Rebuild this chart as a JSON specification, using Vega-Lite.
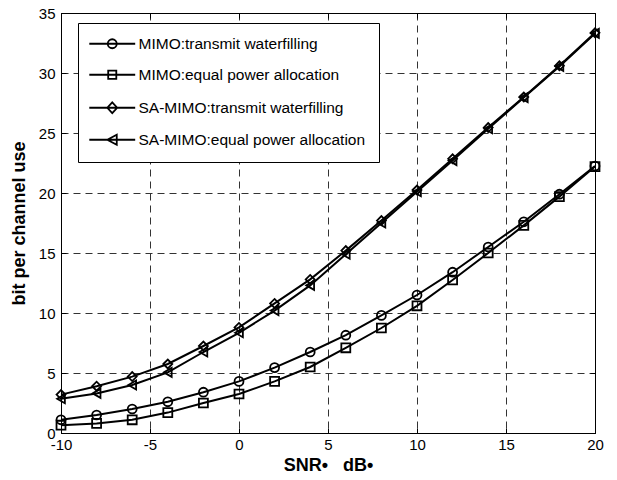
{
  "$schema": "https://vega.github.io/schema/vega-lite/v6.json",
  "width": 534,
  "height": 420,
  "autosize": {"type": "none"},
  "padding": {"left": 61, "top": 13, "right": 22, "bottom": 47},
  "background": "white",
  "config": {
    "font": "Liberation Sans",
    "view": {"stroke": "black", "strokeWidth": 1},
    "axis": {
      "domainColor": "black",
      "domainWidth": 1,
      "tickColor": "black",
      "tickSize": -5,
      "tickWidth": 1,
      "labelFont": "Liberation Sans",
      "labelFontSize": 15,
      "labelColor": "black",
      "labelFlush": false,
      "labelOverlap": false,
      "labelExpr": "'' + datum.value",
      "titleFont": "Liberation Sans",
      "titleFontSize": 18,
      "titleFontWeight": "bold",
      "titleColor": "black",
      "gridColor": "#333333",
      "gridDash": [7, 5],
      "gridWidth": 1,
      "gridOpacity": 1
    }
  },
  "data": {
    "values": [
      {"snr": -10, "bits": 1.1, "series": "MIMO:transmit waterfilling"},
      {"snr": -8, "bits": 1.5, "series": "MIMO:transmit waterfilling"},
      {"snr": -6, "bits": 2.0, "series": "MIMO:transmit waterfilling"},
      {"snr": -4, "bits": 2.6, "series": "MIMO:transmit waterfilling"},
      {"snr": -2, "bits": 3.4, "series": "MIMO:transmit waterfilling"},
      {"snr": 0, "bits": 4.3, "series": "MIMO:transmit waterfilling"},
      {"snr": 2, "bits": 5.45, "series": "MIMO:transmit waterfilling"},
      {"snr": 4, "bits": 6.75, "series": "MIMO:transmit waterfilling"},
      {"snr": 6, "bits": 8.15, "series": "MIMO:transmit waterfilling"},
      {"snr": 8, "bits": 9.8, "series": "MIMO:transmit waterfilling"},
      {"snr": 10, "bits": 11.5, "series": "MIMO:transmit waterfilling"},
      {"snr": 12, "bits": 13.4, "series": "MIMO:transmit waterfilling"},
      {"snr": 14, "bits": 15.5, "series": "MIMO:transmit waterfilling"},
      {"snr": 16, "bits": 17.6, "series": "MIMO:transmit waterfilling"},
      {"snr": 18, "bits": 19.9, "series": "MIMO:transmit waterfilling"},
      {"snr": 20, "bits": 22.25, "series": "MIMO:transmit waterfilling"},
      {"snr": -10, "bits": 0.65, "series": "MIMO:equal power allocation"},
      {"snr": -8, "bits": 0.8, "series": "MIMO:equal power allocation"},
      {"snr": -6, "bits": 1.1, "series": "MIMO:equal power allocation"},
      {"snr": -4, "bits": 1.7, "series": "MIMO:equal power allocation"},
      {"snr": -2, "bits": 2.5, "series": "MIMO:equal power allocation"},
      {"snr": 0, "bits": 3.25, "series": "MIMO:equal power allocation"},
      {"snr": 2, "bits": 4.3, "series": "MIMO:equal power allocation"},
      {"snr": 4, "bits": 5.5, "series": "MIMO:equal power allocation"},
      {"snr": 6, "bits": 7.1, "series": "MIMO:equal power allocation"},
      {"snr": 8, "bits": 8.75, "series": "MIMO:equal power allocation"},
      {"snr": 10, "bits": 10.6, "series": "MIMO:equal power allocation"},
      {"snr": 12, "bits": 12.75, "series": "MIMO:equal power allocation"},
      {"snr": 14, "bits": 15.0, "series": "MIMO:equal power allocation"},
      {"snr": 16, "bits": 17.3, "series": "MIMO:equal power allocation"},
      {"snr": 18, "bits": 19.7, "series": "MIMO:equal power allocation"},
      {"snr": 20, "bits": 22.2, "series": "MIMO:equal power allocation"},
      {"snr": -10, "bits": 3.2, "series": "SA-MIMO:transmit waterfilling"},
      {"snr": -8, "bits": 3.9, "series": "SA-MIMO:transmit waterfilling"},
      {"snr": -6, "bits": 4.7, "series": "SA-MIMO:transmit waterfilling"},
      {"snr": -4, "bits": 5.75, "series": "SA-MIMO:transmit waterfilling"},
      {"snr": -2, "bits": 7.25, "series": "SA-MIMO:transmit waterfilling"},
      {"snr": 0, "bits": 8.8, "series": "SA-MIMO:transmit waterfilling"},
      {"snr": 2, "bits": 10.8, "series": "SA-MIMO:transmit waterfilling"},
      {"snr": 4, "bits": 12.8, "series": "SA-MIMO:transmit waterfilling"},
      {"snr": 6, "bits": 15.2, "series": "SA-MIMO:transmit waterfilling"},
      {"snr": 8, "bits": 17.7, "series": "SA-MIMO:transmit waterfilling"},
      {"snr": 10, "bits": 20.25, "series": "SA-MIMO:transmit waterfilling"},
      {"snr": 12, "bits": 22.85, "series": "SA-MIMO:transmit waterfilling"},
      {"snr": 14, "bits": 25.45, "series": "SA-MIMO:transmit waterfilling"},
      {"snr": 16, "bits": 28.0, "series": "SA-MIMO:transmit waterfilling"},
      {"snr": 18, "bits": 30.6, "series": "SA-MIMO:transmit waterfilling"},
      {"snr": 20, "bits": 33.35, "series": "SA-MIMO:transmit waterfilling"},
      {"snr": -10, "bits": 2.85, "series": "SA-MIMO:equal power allocation"},
      {"snr": -8, "bits": 3.3, "series": "SA-MIMO:equal power allocation"},
      {"snr": -6, "bits": 4.0, "series": "SA-MIMO:equal power allocation"},
      {"snr": -4, "bits": 5.05, "series": "SA-MIMO:equal power allocation"},
      {"snr": -2, "bits": 6.75, "series": "SA-MIMO:equal power allocation"},
      {"snr": 0, "bits": 8.35, "series": "SA-MIMO:equal power allocation"},
      {"snr": 2, "bits": 10.2, "series": "SA-MIMO:equal power allocation"},
      {"snr": 4, "bits": 12.3, "series": "SA-MIMO:equal power allocation"},
      {"snr": 6, "bits": 14.9, "series": "SA-MIMO:equal power allocation"},
      {"snr": 8, "bits": 17.5, "series": "SA-MIMO:equal power allocation"},
      {"snr": 10, "bits": 20.1, "series": "SA-MIMO:equal power allocation"},
      {"snr": 12, "bits": 22.7, "series": "SA-MIMO:equal power allocation"},
      {"snr": 14, "bits": 25.35, "series": "SA-MIMO:equal power allocation"},
      {"snr": 16, "bits": 27.95, "series": "SA-MIMO:equal power allocation"},
      {"snr": 18, "bits": 30.55, "series": "SA-MIMO:equal power allocation"},
      {"snr": 20, "bits": 33.3, "series": "SA-MIMO:equal power allocation"}
    ]
  },
  "layer": [
    {
      "mark": {"type": "line", "color": "black", "strokeWidth": 2},
      "encoding": {
        "x": {"field": "snr", "type": "quantitative", "scale": {"domain": [-10, 20], "nice": false, "zero": false},
          "axis": {"orient": "bottom", "values": [-10, -5, 0, 5, 10, 15, 20], "title": "SNR•\u00a0\u00a0\u00a0dB•", "labelPadding": 9, "titlePadding": 4, "grid": true}},
        "y": {"field": "bits", "type": "quantitative", "scale": {"domain": [0, 35], "nice": false},
          "axis": {"orient": "left", "values": [0, 5, 10, 15, 20, 25, 30, 35], "title": "bit per channel use", "labelPadding": 11, "titlePadding": 10, "grid": true}},
        "detail": {"field": "series", "type": "nominal"}
      }
    },
    {
      "mark": {"type": "point", "filled": false, "color": "black", "strokeWidth": 1.8, "size": 80, "opacity": 1},
      "encoding": {
        "x": {"field": "snr", "type": "quantitative", "axis": null},
        "y": {"field": "bits", "type": "quantitative", "axis": null},
        "shape": {
          "field": "series", "type": "nominal",
          "scale": {
            "domain": ["MIMO:transmit waterfilling", "MIMO:equal power allocation", "SA-MIMO:transmit waterfilling", "SA-MIMO:equal power allocation"],
            "range": ["circle", "square", "diamond", "triangle-left"]
          },
          "legend": null
        }
      }
    },
    {
      "mark": {"type": "point", "opacity": 0, "filled": false, "size": 81},
      "encoding": {
        "x": {"field": "snr", "type": "quantitative",
          "axis": {"orient": "top", "values": [-10, -5, 0, 5, 10, 15, 20], "labels": false, "title": null, "grid": false, "domain": true}},
        "y": {"field": "bits", "type": "quantitative",
          "axis": {"orient": "right", "values": [0, 5, 10, 15, 20, 25, 30, 35], "labels": false, "title": null, "grid": false, "domain": true}},
        "shape": {
          "field": "series", "type": "nominal",
          "scale": {
            "domain": ["MIMO:transmit waterfilling", "MIMO:equal power allocation", "SA-MIMO:transmit waterfilling", "SA-MIMO:equal power allocation"],
            "range": [
              "M-2.1,0H8.1M4,0A1,1,0,1,1,2,0A1,1,0,1,1,4,0",
              "M-2.1,0H8.1M2.1,-0.9H3.9V0.9H2.1Z",
              "M-2.1,0H8.1M3,-1.2L4.1,0L3,1.2L1.9,0Z",
              "M-2.1,0H8.1M1.9,0L4,-1.1L4,1.1Z"
            ]
          },
          "legend": {
            "title": null,
            "orient": "none",
            "legendX": 17,
            "legendY": 10,
            "strokeColor": "black",
            "fillColor": "white",
            "padding": 13,
            "cornerRadius": 0,
            "symbolSize": 81,
            "symbolOpacity": 1,
            "symbolStrokeWidth": 1.8,
            "symbolStrokeColor": "black",
            "symbolFillColor": "transparent",
            "labelFont": "Liberation Sans",
            "labelFontSize": 15.5,
            "labelColor": "black",
            "labelLimit": 400,
            "labelOffset": 32,
            "rowPadding": 14
          }
        }
      }
    }
  ],
  "resolve": {"axis": {"x": "independent", "y": "independent"}, "scale": {"shape": "independent"}}
}
